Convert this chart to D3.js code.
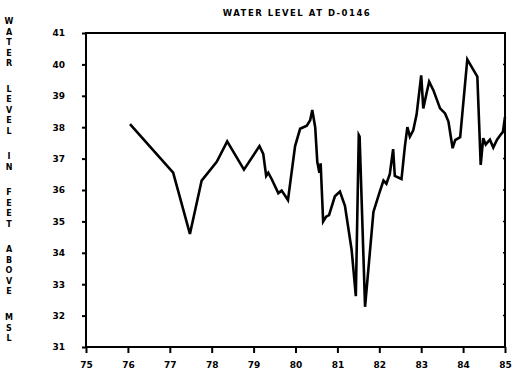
<html lang="en">
<head>
  <meta charset="utf-8">
  <title>Water level at D-0146</title>
  <script src="https://cdn.jsdelivr.net/npm/d3@7"></script>
  <style>
    html, body { margin: 0; padding: 0; background: #fff; overflow: hidden; }
    svg { display: block; }
    text { font-family: "DejaVu Sans", sans-serif; font-weight: bold; fill: #000; }
  </style>
</head>
<body>
  <svg width="517" height="391"></svg>
  <script>
  // sample dates (decimal year, 19xx) and water level (ft above MSL)
  const years = [
    76.05, 77.08, 77.48, 77.76, 78.12, 78.37, 78.77, 79.14, 79.23, 79.30,
    79.35, 79.43, 79.59, 79.67, 79.82, 79.99, 80.11, 80.27, 80.35, 80.40,
    80.47, 80.52, 80.57, 80.60, 80.66, 80.73, 80.80, 80.94, 81.06, 81.18,
    81.34, 81.44, 81.51, 81.53, 81.66, 81.86, 82.00, 82.10, 82.17, 82.25,
    82.33, 82.37, 82.53, 82.61, 82.67, 82.73, 82.81, 82.89, 83.00, 83.05,
    83.13, 83.19, 83.29, 83.45, 83.57, 83.65, 83.75, 83.81, 83.93, 84.10,
    84.20, 84.34, 84.42, 84.48, 84.54, 84.64, 84.72, 84.81, 84.89, 84.95,
    85.00
  ];
  const levels = [
    38.10, 36.55, 34.60, 36.30, 36.90, 37.55, 36.65, 37.40, 37.15, 36.45,
    36.55, 36.35, 35.90, 35.98, 35.68, 37.40, 37.95, 38.05, 38.22, 38.55,
    38.00, 36.90, 36.55, 36.85, 35.00, 35.15, 35.20, 35.80, 35.95, 35.50,
    34.09, 32.62, 37.75, 37.70, 32.28, 35.30, 35.90, 36.30, 36.20, 36.50,
    37.30, 36.45, 36.35, 37.38, 38.00, 37.70, 37.90, 38.40, 39.65, 38.60,
    39.10, 39.45, 39.18, 38.60, 38.44, 38.18, 37.33, 37.59, 37.68, 40.16,
    39.93, 39.61, 36.80, 37.65, 37.45, 37.60, 37.35, 37.60, 37.75, 37.85,
    38.33
  ];

  const xTicks = [75, 76, 77, 78, 79, 80, 81, 82, 83, 84, 85];
  const yTicks = [31, 32, 33, 34, 35, 36, 37, 38, 39, 40, 41];
  const title = "WATER LEVEL AT D-0146";
  const yTitleWords = ["WATER", "LEVEL", "IN", "FEET", "ABOVE", "MSL"];

  const svg = d3.select("svg");
  const plotLeft = 86, plotRight = 505, plotTop = 33, plotBottom = 347;

  const x = d3.scaleLinear().domain([75, 85]).range([plotLeft, plotRight]);
  const y = d3.scaleLinear().domain([31, 41]).range([plotBottom, plotTop]);

  // x axis
  const xAxis = svg.append("g")
    .attr("transform", `translate(0,${plotBottom})`)
    .call(d3.axisBottom(x).tickValues(xTicks).tickSize(6).tickPadding(9).tickFormat(d3.format("d")));
  xAxis.select(".domain").remove();
  xAxis.selectAll("line").attr("stroke", "#000").attr("stroke-width", 2);
  xAxis.selectAll("text").attr("font-size", 9).attr("font-family", "DejaVu Sans").attr("font-weight", "bold");

  // y axis
  const yAxis = svg.append("g")
    .attr("transform", `translate(${plotLeft},0)`)
    .call(d3.axisLeft(y).tickValues(yTicks).tickSize(4).tickPadding(17).tickFormat(d3.format("d")));
  yAxis.select(".domain").remove();
  yAxis.selectAll("line").attr("stroke", "#000").attr("stroke-width", 2);
  yAxis.selectAll("text").attr("font-size", 9).attr("font-family", "DejaVu Sans").attr("font-weight", "bold");

  // small inward ticks along the right edge
  svg.append("g")
    .selectAll("line")
    .data(yTicks)
    .join("line")
    .attr("x1", plotRight - 2).attr("x2", plotRight)
    .attr("y1", d => y(d)).attr("y2", d => y(d))
    .attr("stroke", "#000").attr("stroke-width", 1.5);

  // frame
  svg.append("rect")
    .attr("x", plotLeft).attr("y", plotTop)
    .attr("width", plotRight - plotLeft).attr("height", plotBottom - plotTop)
    .attr("fill", "none")
    .attr("stroke", "#000")
    .attr("stroke-width", 2);

  // water level line
  const pts = years.map((yr, i) => [yr, levels[i]]);
  svg.append("path")
    .datum(pts)
    .attr("fill", "none")
    .attr("stroke", "#000")
    .attr("stroke-width", 2.6)
    .attr("stroke-linejoin", "miter")
    .attr("d", d3.line().x(d => x(d[0])).y(d => y(d[1])));

  // title
  svg.append("text")
    .attr("x", 297).attr("y", 16)
    .attr("text-anchor", "middle")
    .attr("font-size", 8.5)
    .attr("letter-spacing", 1.5)
    .text(title);

  // vertical stacked axis title, one letter per line
  const letterStep = 10.5, wordGap = 25.6;
  let pos = 24;
  const letters = [];
  yTitleWords.forEach((w, wi) => {
    if (wi > 0) pos += wordGap - letterStep;
    w.split("").forEach((ch, ci) => {
      if (wi > 0 || ci > 0) pos += letterStep;
      letters.push({ ch, pos });
    });
  });
  svg.append("g")
    .selectAll("text")
    .data(letters)
    .join("text")
    .attr("x", 9).attr("y", d => d.pos)
    .attr("text-anchor", "middle")
    .attr("font-size", 8)
    .text(d => d.ch);
  </script>
</body>
</html>
